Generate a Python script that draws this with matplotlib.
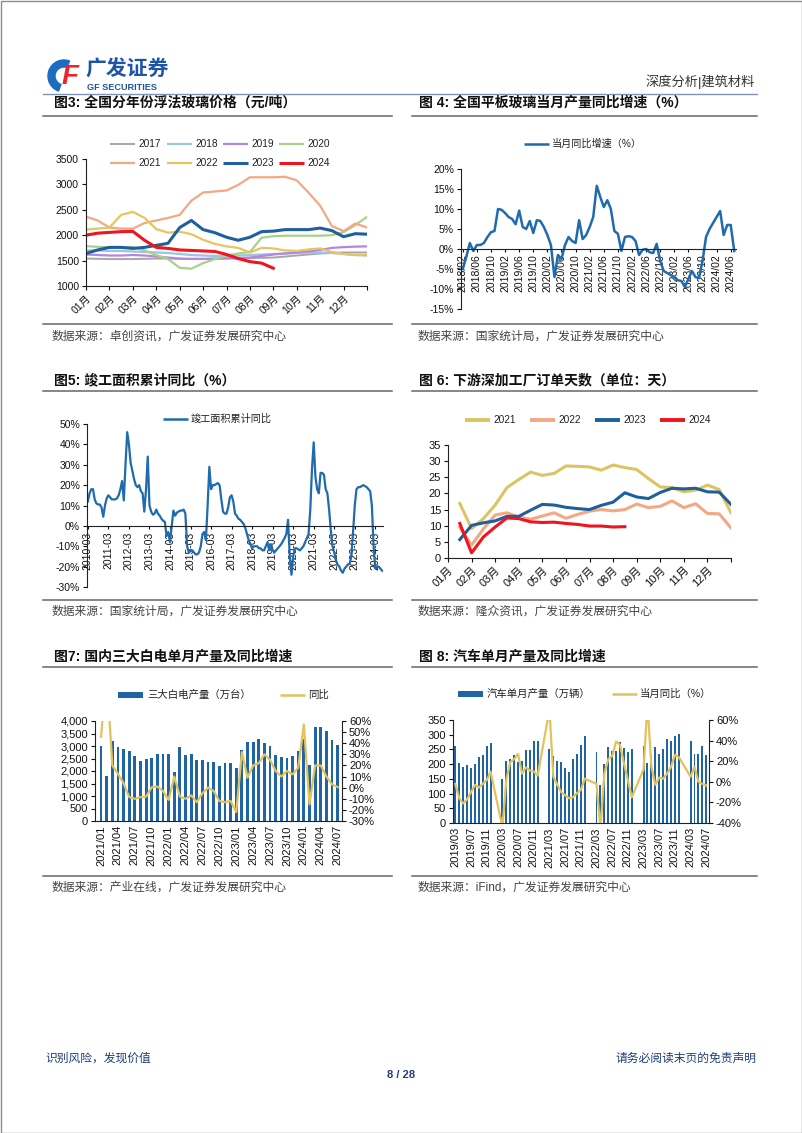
import matplotlib
matplotlib.use('Agg')
import matplotlib.pyplot as plt
from matplotlib.patches import Rectangle, Wedge
import numpy as np
import pandas as pd

W, H = 802, 1133
plt.rcParams['font.family'] = ['Liberation Sans', 'Noto Sans CJK SC', 'DejaVu Sans']
plt.rcParams['axes.unicode_minus'] = False

# ---------------- data ----------------
# fig 3: float glass price by year, half-month samples (yuan/t)
month_labels = ['%02d月' % m for m in range(1, 13)]
glass_2017 = [1540, 1535, 1530, 1530, 1530, 1535, 1540, 1540, 1535, 1530, 1530, 1535, 1540,
              1545, 1550, 1555, 1560, 1580, 1600, 1620, 1640, 1650, 1660, 1660, 1660]
glass_2018 = [1700, 1700, 1690, 1690, 1680, 1670, 1660, 1650, 1630, 1610, 1600, 1590, 1590,
              1600, 1610, 1620, 1630, 1640, 1650, 1660, 1660, 1650, 1630, 1610, 1600]
glass_2019 = [1620, 1610, 1600, 1600, 1610, 1600, 1580, 1560, 1540, 1535, 1535, 1540, 1545,
              1550, 1560, 1590, 1620, 1640, 1660, 1680, 1710, 1750, 1765, 1775, 1780]
glass_2020 = [1785, 1770, 1760, 1760, 1770, 1700, 1610, 1530, 1360, 1340, 1450, 1530, 1600,
              1640, 1670, 1950, 1980, 1990, 1990, 1990, 1990, 2000, 2060, 2200, 2360]
glass_2021 = [2365, 2290, 2150, 2130, 2130, 2240, 2290, 2340, 2400, 2680, 2840, 2860, 2880,
              2990, 3140, 3140, 3140, 3150, 3080, 2840, 2580, 2180, 2080, 2230, 2150]
glass_2022 = [2110, 2130, 2150, 2400, 2460, 2340, 2120, 2050, 2070, 2020, 1910, 1830, 1780,
              1750, 1660, 1750, 1740, 1700, 1690, 1720, 1740, 1670, 1630, 1610, 1610]
glass_2023 = [1640, 1710, 1760, 1760, 1740, 1760, 1800, 1840, 2150, 2290, 2110, 2050, 1960,
              1900, 1960, 2070, 2080, 2110, 2110, 2110, 2140, 2090, 1970, 2030, 2020]
glass_2024 = [2000, 2040, 2055, 2070, 2075, 1900, 1760, 1740, 1710, 1700, 1690, 1680, 1620,
              1540, 1480, 1450, 1350]

# fig 4: flat glass monthly output yoy (%), 2018/02 - 2024/07
flat_start = '2018-02'
flat_yoy = [-5, -2, 1.5, -0.5, 1.0, 1.0, 1.5, 3.0, 4.2, 4.5,
            10, 9.8, 9.0, 8.0, 7.5, 6.2, 9.6, 5.5, 5.0, 7.0,
            4.0, 7.2, 7.0, 5.5, 3.5, 1.0, -7, -1.5, -2.5, 1.0,
            3.0, 2.0, 1.5, 7.2, 2.5, 3.5, 5.5, 8.0, 15.8, 13.0,
            10.5, 12.2, 10.0, 4.5, 3.8, -0.5, 3.0, 3.2, 3.0, 2.0,
            -1.5, -0.2, 0.0, -0.8, -1.0, 1.3, -3.0, -5.5, -6.0, -6.5,
            -7.0, -7.8, -8.0, -9.5, -7.5, -5.5, -7.0, -7.3, -3.0, 3.0,
            5.0, 6.5, 8.0, 9.5, 3.5, 6.0, 6.0, -0.5]

# fig 5: completed floor area cumulative yoy (%), 2010-03 - 2024-07
done_start = '2010-03'
done_yoy = [12, 16, 18, 18, 13, 11, 10.5, 10.5, 9, 4.5,
            10, 13.5, 15, 14, 13, 13, 13, 13.5, 15, 18,
            22, 12.5, 30, 46, 40, 31, 27, 23, 20, 19,
            20, 17, 16, 7, 18, 34, 10, 7, 5.5, 6,
            8, 6, 5, 3.5, 2.5, 2, -5, -3, -8, 0,
            7.5, 5, 6.5, 7, 7.5, 7.5, 8, 6, -10, -13,
            -12.5, -12, -13, -14, -14, -13, -10, -4, -3, -7,
            10, 29, 18, 20, 20, 20.5, 21, 20, 13, 7,
            6, 6, 9, 14, 15, 12, 6, 5, 3.5, 3,
            2, 1, -1, -4, -7, -9, -11, -10, -10, -10,
            -11, -11, -12, -12, -10, -8, -12, -9, -12, -13,
            -12, -11, -10, -9, -7.5, -6, -4, 3, -15, -24,
            -15, -11, -11, -11.5, -12, -11, -10, -8, -6, -4,
            8, 28, 41, 24, 18, 16, 26, 26, 25, 18,
            16, 8, -2, -10, -13, -17, -19, -20, -22, -23,
            -21, -20, -19, -18.5, -15, -3, 10, 18, 19, 19,
            19.5, 20, 19.5, 19, 18, 17, 10, -10, -21, -20,
            -20, -21, -22]

# fig 6: downstream processor order days, half-month samples
order_2021 = [16.9, 9.1, 12.2, 16.4, 21.8, 24.3, 26.6, 25.6, 26.2, 28.5, 28.4, 28.2,
              27.2, 28.8, 28.0, 27.4, 24.6, 22.0, 21.8, 20.5, 21.0, 22.6, 21.2, 14.0]
order_2022 = [9.5, 4.0, 9.0, 13.3, 14.0, 12.7, 12.0, 13.0, 14.0, 12.3, 13.5, 14.5,
              15.0, 14.6, 15.0, 16.7, 15.6, 16.0, 17.7, 15.6, 16.8, 13.8, 13.7, 9.3]
order_2023 = [5.7, 10.1, 10.9, 11.5, 12.9, 12.9, 14.8, 16.6, 16.4, 15.7, 15.3, 15.0,
              16.3, 17.3, 20.2, 18.9, 18.4, 20.3, 21.6, 21.4, 21.6, 20.5, 20.4, 16.6]
order_2024 = [10.7, 1.6, 6.5, 9.6, 12.4, 12.2, 11.2, 11.0, 11.1, 10.7, 10.4, 9.9,
              9.9, 9.6, 9.7]

# fig 7: white goods monthly output (10k units) and yoy (%), 2021/01 - 2024/07
appl_start = '2021-01'
appl_prod = [2985, 1806, 3211, 2944, 2877, 2783, 2596, 2395, 2462, 2502, 2663, 2663,
             2676, 1953, 2944, 2636, 2663, 2422, 2435, 2342, 2342, 2181, 2301, 2301,
             2110, 2830, 3150, 3150, 3270, 3140, 3020, 2640, 2560, 2530, 2600, 2800,
             3300, 2230, 3780, 3780, 3620, 3260, 3050]
appl_yoy = [45.8, 104, 20, 12.5, 4, -8.5, -10, -8.5, -8, 0.5, 1, -3,
            -11, 10, -8, -10, -7, -13, -5, 0, -3, -12, -13, -12,
            -22, 32, 9, 20, 22, 30, 25, 15, 10, 15, 12, 18,
            57, -15, 20, 20, 10, 3, 0.5]

# fig 8: auto monthly output (10k units) and yoy (%), 2019/03 - 2024/07
nan = np.nan
car_start = '2019-03'
car_prod = [261, 205, 189, 197, 188, 202, 223, 230, 262, 273,
            nan, nan, 148, 211, 216, 230, 208, 210, 247, 248, 278, 280,
            nan, nan, 252, 227, 211, 206, 186, 172, 218, 236, 266, 297,
            nan, nan, 240, 129, 199, 259, 245, 245, 276, 256, 241, 250,
            nan, nan, 262, 204, 232, 257, 233, 253, 284, 280, 296, 304,
            nan, nan, 280, 236, 236, 262, 230]
car_yoy = [-2, -16, -21, -17, -10, -3, -5.6, -2, 1.6, 9.7,
           nan, nan, -44, 2, 19, 22, 27, 8, 14, 11, 10, 6,
           nan, nan, 70, 5, -3, -10, -13, -16, -15, -11, -8, 3,
           nan, nan, -2, -46, 8, 22, 25, 39, 36, 18, 1.6, -15,
           nan, nan, 12, 76, 15, -3, 4, 3, 8, 14.5, 26, 24,
           nan, nan, 5, 14.5, 0, -2, -3.5]

# ---------------- colours ----------------
BLUE = '#1F5F9E'
GOLD = '#E2C25C'
RED = '#F0141E'
SALMON = '#F2A983'

fig = plt.figure(figsize=(W / 100, H / 100), dpi=100)
page = fig.add_axes([0, 0, 1, 1])
page.set_xlim(0, W)
page.set_ylim(H, 0)
page.axis('off')


def pax(x0, y0, x1, y1, fs=7.5):
    ax = fig.add_axes([x0 / W, 1 - y1 / H, (x1 - x0) / W, (y1 - y0) / H])
    ax.patch.set_visible(False)
    for s in ('top', 'right'):
        ax.spines[s].set_visible(False)
    for s in ax.spines.values():
        s.set_linewidth(0.8)
        s.set_color('#222222')
    ax.tick_params(labelsize=fs, length=3, width=0.8, pad=2, colors='#111111')
    return ax


def twin(ax, fs):
    axr = ax.twinx()
    axr.patch.set_visible(False)
    for s in ('top', 'left', 'bottom'):
        axr.spines[s].set_visible(False)
    axr.spines['right'].set_linewidth(0.8)
    axr.spines['right'].set_color('#222222')
    axr.tick_params(labelsize=fs, length=3, width=0.8, pad=2, colors='#111111')
    return axr


def pct(ax, lo, hi, step):
    ticks = list(range(lo, hi + 1, step))
    ax.set_yticks(ticks)
    ax.set_yticklabels(['%d%%' % t for t in ticks])


def leg_line(x, y, color, lw, label, fs=7.3):
    page.plot([x, x + 25], [y, y], color=color, lw=lw, solid_capstyle='butt')
    page.text(x + 28, y, label, va='center', ha='left', fontsize=fs, color='#222222')


def leg_bar(x, y, color, label, fs=7.5):
    page.add_patch(Rectangle((x, y - 3), 25, 6, color=color, lw=0))
    page.text(x + 29, y, label, va='center', ha='left', fontsize=fs, color='#222222')


# ---------------- page furniture ----------------
page.add_patch(Rectangle((0.5, 0.5), W - 1, H - 1, fill=False, ec='#8c8c8c', lw=1))
page.add_patch(Wedge((64, 76), 16, 110, 290, width=7, color='#1A6DC0'))
page.text(70, 77, 'F', color='#E8262B', fontsize=20, fontweight='bold', style='italic',
          ha='center', va='center')
page.text(85, 70, '广发证券', color='#1E54A8', fontsize=15, fontweight='bold', va='center')
page.text(87, 88, 'GF SECURITIES', color='#1E54A8', fontsize=6.6, fontweight='bold', va='center')
page.text(755, 82, '深度分析|建筑材料', color='#333333', fontsize=9.5, ha='right', va='center')
page.plot([43, 757], [94, 94], color='#7F95B8', lw=1)

titles = [(54, 103, '图3: 全国分年份浮法玻璃价格（元/吨）'),
          (419, 103, '图 4: 全国平板玻璃当月产量同比增速（%）'),
          (54, 380, '图5: 竣工面积累计同比（%）'),
          (419, 380, '图 6: 下游深加工厂订单天数（单位：天）'),
          (54, 657, '图7: 国内三大白电单月产量及同比增速'),
          (419, 657, '图 8: 汽车单月产量及同比增速')]
for x, y, t in titles:
    page.text(x, y, t, fontsize=10, fontweight='bold', va='center', color='#111111')

sources = [(52, 337, '数据来源：卓创资讯，广发证券发展研究中心'),
           (418, 337, '数据来源：国家统计局，广发证券发展研究中心'),
           (52, 612, '数据来源：国家统计局，广发证券发展研究中心'),
           (418, 612, '数据来源：隆众资讯，广发证券发展研究中心'),
           (52, 888, '数据来源：产业在线，广发证券发展研究中心'),
           (418, 888, '数据来源：iFind，广发证券发展研究中心')]
for x, y, t in sources:
    page.text(x, y, t, fontsize=8.5, va='center', color='#444444')

for y in (116, 391, 667, 324, 600, 876):
    page.plot([43, 392], [y, y], color='#666666', lw=1.1)
    page.plot([412, 757], [y, y], color='#666666', lw=1.1)

page.text(45, 1059, '识别风险，发现价值', fontsize=8.5, color='#1F3E7A', va='center')
page.text(756, 1059, '请务必阅读末页的免责声明', fontsize=8.5, color='#1F3E7A', va='center', ha='right')
page.text(401, 1075, '8 / 28', fontsize=8, color='#1F3E7A', fontweight='bold', va='center', ha='center')

# ---------------- fig 3 ----------------
ax3 = pax(86, 159, 367, 286)
glass = [('2017', glass_2017, '#A6A6A6', 1.4), ('2018', glass_2018, '#9DC3E6', 1.6),
         ('2019', glass_2019, '#B487DE', 1.6), ('2020', glass_2020, '#A9D18E', 1.6),
         ('2021', glass_2021, SALMON, 1.6), ('2022', glass_2022, '#E5C65E', 1.6),
         ('2023', glass_2023, BLUE, 2.2), ('2024', glass_2024, RED, 2.2)]
for lab, vals, c, lw in glass:
    ax3.plot(np.arange(len(vals)) * 0.5, vals, color=c, lw=lw)
ax3.set_xlim(0, 12)
ax3.set_ylim(1000, 3500)
ax3.set_yticks(range(1000, 3501, 500))
ax3.set_xticks(range(13))
ax3.set_xticklabels(month_labels + [''], rotation=45, ha='right', va='top', rotation_mode='anchor')
cols = [110, 167, 223, 279]
for i, (lab, vals, c, lw) in enumerate(glass):
    leg_line(cols[i % 4], 144 if i < 4 else 163, c, lw, lab)

# ---------------- fig 4 ----------------
ax4 = pax(461, 169, 736, 309)
ax4.plot(np.arange(len(flat_yoy)), flat_yoy, color='#1F6BAE', lw=1.8)
ax4.set_xlim(-0.5, len(flat_yoy) - 0.5)
ax4.set_ylim(-15, 20)
pct(ax4, -15, 20, 5)
ax4.spines['bottom'].set_position(('data', 0))
flat_months = pd.period_range(flat_start, periods=len(flat_yoy), freq='M').strftime('%Y/%m')
ax4.set_xticks(range(0, len(flat_yoy), 4))
ax4.set_xticklabels(flat_months[::4], rotation=90, ha='center', va='top')
ax4.tick_params(axis='x', length=2)
leg_line(524, 144, '#1F6BAE', 1.8, '当月同比增速（%）')

# ---------------- fig 5 ----------------
ax5 = pax(87, 424, 383, 587)
ax5.plot(np.arange(len(done_yoy)), done_yoy, color='#1F6BAE', lw=1.6)
ax5.set_xlim(-0.5, len(done_yoy) - 0.5)
ax5.set_ylim(-30, 50)
pct(ax5, -30, 50, 10)
ax5.spines['bottom'].set_position(('data', 0))
done_months = pd.period_range(done_start, periods=len(done_yoy), freq='M').strftime('%Y-%m')
ax5.set_xticks(range(0, len(done_yoy), 12))
ax5.set_xticklabels(done_months[::12], rotation=90, ha='center', va='top')
ax5.tick_params(axis='x', length=2)
leg_line(163, 419, '#1F6BAE', 1.8, '竣工面积累计同比')

# ---------------- fig 6 ----------------
ax6 = pax(448, 445, 731, 558, fs=8)
orders = [('2021', order_2021, '#DCC463'), ('2022', order_2022, SALMON),
          ('2023', order_2023, BLUE), ('2024', order_2024, RED)]
for lab, vals, c in orders:
    ax6.plot(np.arange(1, len(vals) + 1), vals, color=c, lw=2.2)
ax6.set_xlim(0, 24)
ax6.set_ylim(0, 35)
ax6.set_yticks(range(0, 36, 5))
ax6.set_xticks(range(0, 25, 2))
ax6.set_xticklabels(month_labels + [''], rotation=45, ha='right', va='top', rotation_mode='anchor')
for x, (lab, vals, c) in zip([465, 530, 595, 660], orders):
    leg_line(x, 420, c, 2.8, lab)

# ---------------- fig 7 ----------------
ax7 = pax(95, 721, 342, 821, fs=8)
xa = np.arange(len(appl_prod))
ax7.bar(xa, appl_prod, width=0.5, color='#1F64A3')
ax7.set_xlim(-1.07, len(appl_prod) - 0.23)
ax7.set_ylim(0, 4000)
ax7.set_yticks(range(0, 4001, 500))
ax7.set_yticklabels(['{:,}'.format(v) for v in range(0, 4001, 500)])
appl_months = pd.period_range(appl_start, periods=len(appl_prod), freq='M').strftime('%Y/%m')
ax7.set_xticks(range(0, len(appl_prod), 3))
ax7.set_xticklabels(appl_months[::3], rotation=90, ha='center', va='top')
ax7.tick_params(axis='x', length=0, pad=3)
ax7r = twin(ax7, 8)
ax7r.plot(xa, appl_yoy, color=GOLD, lw=1.6)
ax7r.set_ylim(-30, 60)
pct(ax7r, -30, 60, 10)
leg_bar(118, 695, '#1F64A3', '三大白电产量（万台）')
leg_line(280, 695, GOLD, 1.8, '同比', fs=7.5)

# ---------------- fig 8 ----------------
ax8 = pax(453, 720, 709, 823, fs=8)
xc = np.arange(len(car_prod))
cp = np.array(car_prod, dtype=float)
ok = ~np.isnan(cp)
ax8.bar(xc[ok], cp[ok], width=0.5, color='#1F64A3')
ax8.set_xlim(-0.6, len(car_prod) - 0.3)
ax8.set_ylim(0, 350)
ax8.set_yticks(range(0, 351, 50))
car_months = pd.period_range(car_start, periods=len(car_prod), freq='M').strftime('%Y/%m')
ax8.set_xticks(range(0, len(car_prod), 4))
ax8.set_xticklabels(car_months[::4], rotation=90, ha='center', va='top')
ax8.tick_params(axis='x', length=0, pad=3)
ax8r = twin(ax8, 8)
cy = np.array(car_yoy, dtype=float)
oky = ~np.isnan(cy)
ax8r.plot(xc[oky], cy[oky], color=GOLD, lw=1.6)
ax8r.set_ylim(-40, 60)
pct(ax8r, -40, 60, 20)
leg_bar(458, 694, '#1F64A3', '汽车单月产量（万辆）')
leg_line(612, 694, GOLD, 1.8, '当月同比（%）', fs=7.5)

fig.savefig('out.png', dpi=100)
